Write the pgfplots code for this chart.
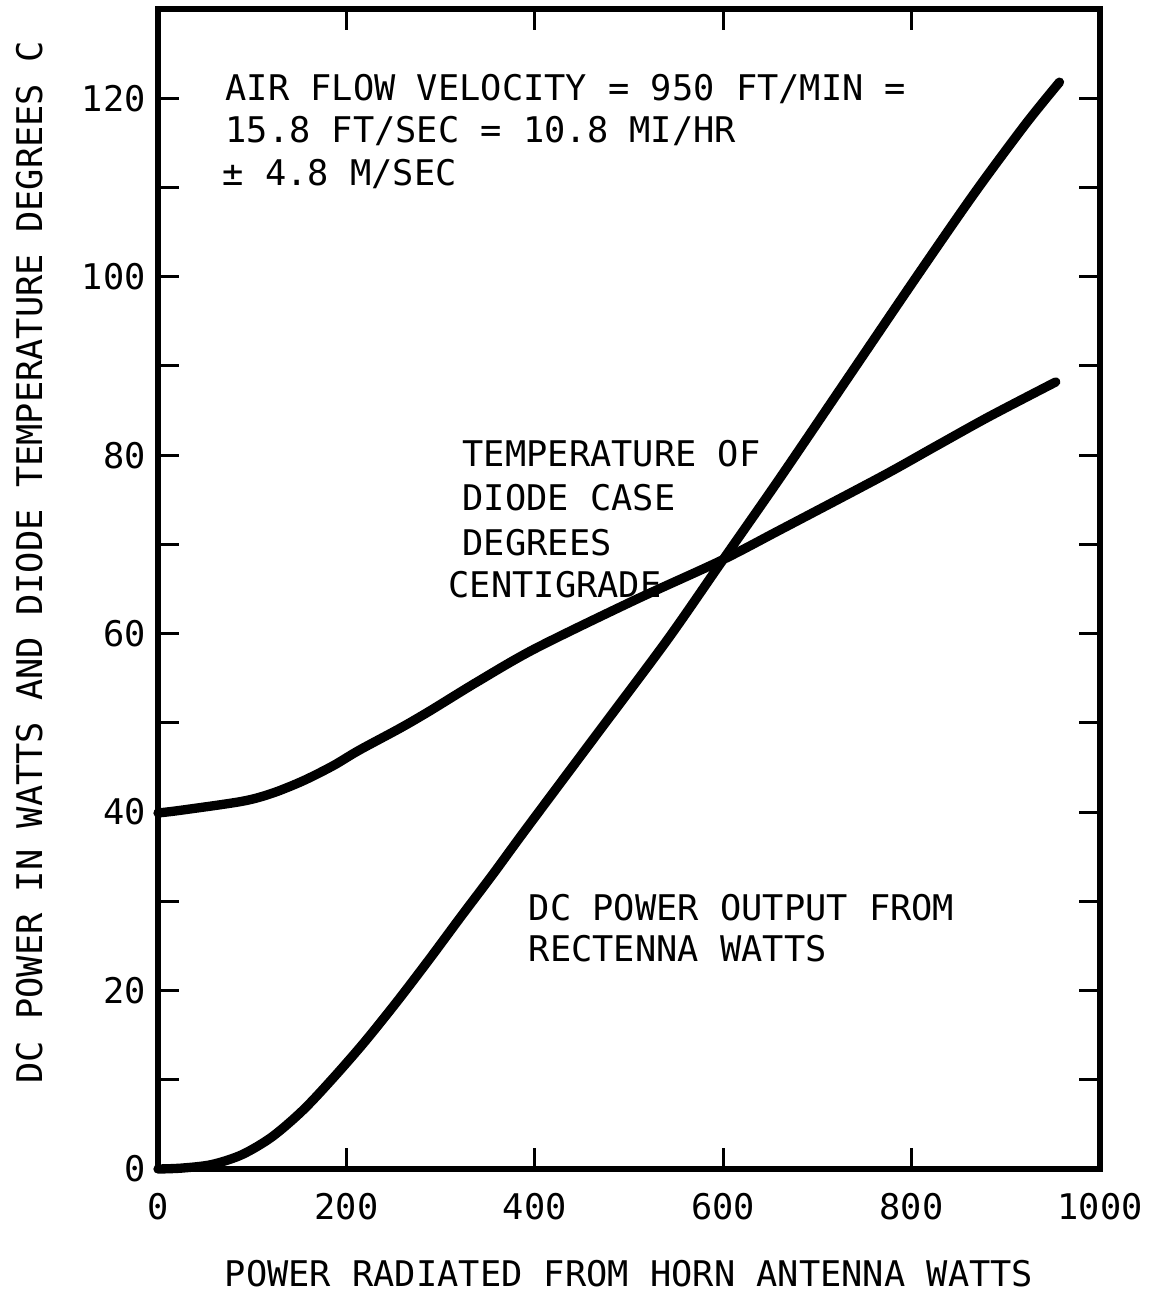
\documentclass[border=0pt]{standalone}
\usepackage{fontspec}
\setmainfont{DejaVu Sans Mono}
\usepackage{pgfplots}
\pgfplotsset{compat=1.18}

\begin{document}
\fontsize{10.6}{12.9}\selectfont
\begin{tikzpicture}
\begin{axis}[
  at={(0,0)}, anchor=south west,
  scale only axis, width=282.6pt, height=348pt,
  xmin=0, xmax=1000, ymin=0, ymax=130,
  xtick={0,200,...,1000}, ytick={0,20,...,120},
  minor ytick={10,30,...,110},
  tick pos=both, tick align=inside,
  major tick length=6.3pt, minor tick length=6.3pt,
  tick style={black, line width=0.9pt},
  axis line style={line width=1.6pt},
  /pgf/number format/assume math mode=true,
  /pgf/number format/1000 sep={},
  xticklabel style={yshift=-3.5pt},
  xlabel={POWER RADIATED FROM HORN ANTENNA WATTS},
  ylabel={DC POWER IN WATTS AND DIODE TEMPERATURE DEGREES C},
  xlabel style={at={(axis description cs:0.5,-0.1017)}, anchor=base},
  ylabel style={at={(axis description cs:-0.1231,0.523)}, anchor=base},
  clip=false,
]
% diode case temperature
\addplot[black, line width=2.8pt, smooth, line cap=round] coordinates {
  (0,39.9) (24,40.2) (89,41.2) (121,42.1) (154,43.5) (186,45.2)
  (213,46.9) (257,49.4) (288,51.3) (339,54.6) (400,58.3) (505,63.7)
  (598,68.2) (660,71.6) (768,77.6) (824,80.9) (882,84.3) (953,88.2)
};
% dc power output
\addplot[black, line width=2.8pt, smooth, line cap=round] coordinates {
  (0,0) (25,0.1) (57,0.5) (89,1.6) (121,3.6) (154,6.6) (186,10.2)
  (219,14.2) (254,18.8) (288,23.5) (321,28.2) (356,33.1) (390,38.0)
  (465,48.6) (540,59.2) (598,68.0) (660,77.4) (732,88.6) (804,99.8)
  (867,109.4) (921,117.1) (957,121.8)
};

\node[anchor=base west, inner sep=0pt] at (axis cs:71,119.8) {AIR FLOW VELOCITY = 950 FT/MIN =};
\node[anchor=base west, inner sep=0pt] at (axis cs:71,115.0) {15.8 FT/SEC = 10.8 MI/HR};
\node[anchor=base west, inner sep=0pt] at (axis cs:68,110.2) {± 4.8 M/SEC};

\node[anchor=base west, inner sep=0pt] at (axis cs:322.7,78.7) {TEMPERATURE OF};
\node[anchor=base west, inner sep=0pt] at (axis cs:322.7,73.8) {DIODE CASE};
\node[anchor=base west, inner sep=0pt] at (axis cs:322.7,68.8) {DEGREES};
\node[anchor=base west, inner sep=0pt] at (axis cs:307.9,64.0) {CENTIGRADE};

\node[anchor=base west, inner sep=0pt] at (axis cs:392.9,27.8) {DC POWER OUTPUT FROM};
\node[anchor=base west, inner sep=0pt] at (axis cs:392.9,23.2) {RECTENNA WATTS};
\end{axis}
\pgfresetboundingbox
\path[use as bounding box]
  ([shift={(-47.4pt,-36.9pt)}]current axis.south west)
  rectangle ([shift={(16.2pt,2.7pt)}]current axis.north east);
\end{tikzpicture}
\end{document}
